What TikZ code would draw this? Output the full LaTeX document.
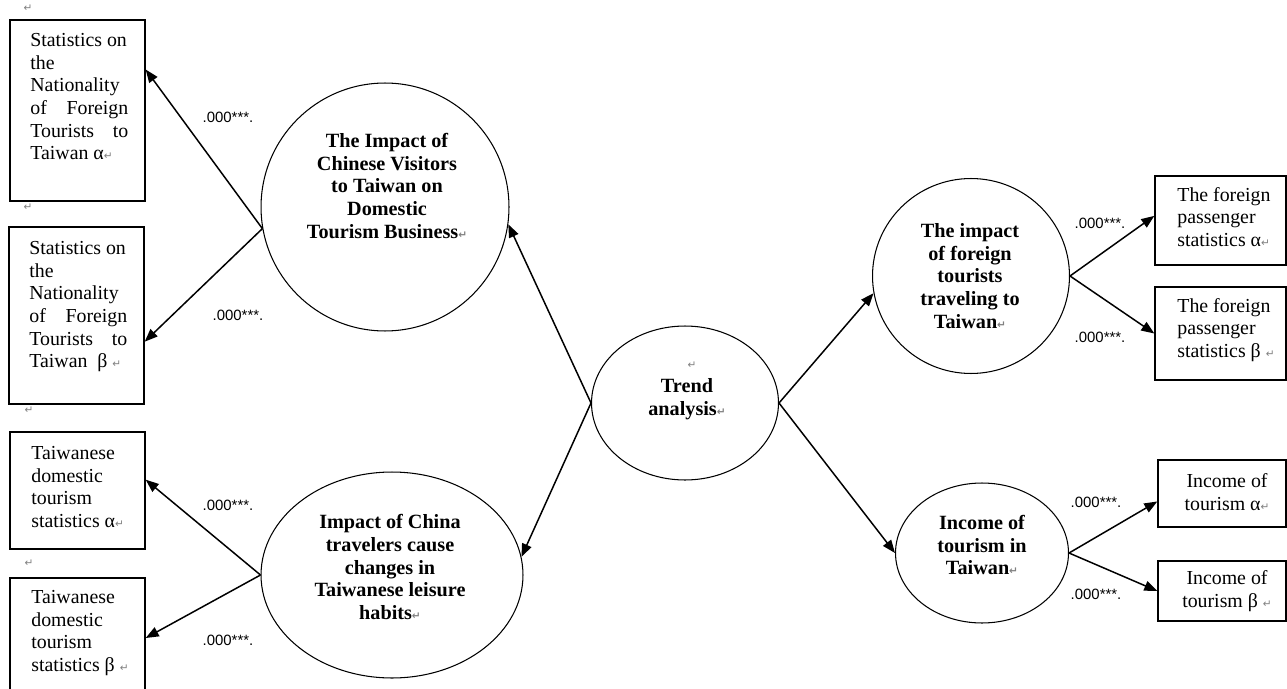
\documentclass[tikz,border=0pt]{standalone}
\usepackage{fontspec}
\setmainfont{Liberation Serif}
\newfontfamily\coeffont{Liberation Sans}
\newfontfamily\markfont{DejaVu Sans}
\usetikzlibrary{arrows.meta,shapes.geometric}

\newcommand{\retmark}{{\markfont\fontsize{6}{6}\selectfont\color{gray}↵}}
\newcommand{\spreadline}[2]{\makebox[1.96cm][s]{#1\hfill #2}}

\begin{document}
\begin{tikzpicture}[x=0.02cm,y=-0.02cm]
        \tikzstyle{every node}=[font=\fontsize{11.3}{12.9}\selectfont]
        \tikzstyle{statbox}=[draw, line width=0.8pt, minimum width=2.7cm, inner sep=0pt]
        \tikzstyle{boxtext}=[anchor=north west, align=left, inner sep=0pt]
        \tikzstyle{factor}=[draw, ellipse, line width=0.6pt, inner sep=0pt]
        \tikzstyle{factortext}=[align=center, inner sep=0pt, font=\fontsize{11.5}{13}\selectfont\bfseries]
        \tikzstyle{coef}=[inner sep=0pt, font=\coeffont\fontsize{8.5}{9}\selectfont]
        \tikzstyle{link}=[->, >={Triangle[length=0.26cm,width=0.2cm]}, line width=0.85pt]
        \useasboundingbox (0,0) rectangle (1287,689);
        % left boxes
        \node [statbox, minimum height=3.62cm] (natA) at (77.5,110.5) {};
        \node [statbox, minimum height=3.54cm] (natB) at (76.5,315.5) {};
        \node [statbox, minimum height=2.34cm] (domA) at (77.5,490.5) {};
        \node [statbox, minimum height=2.4cm] (domB) at (77.5,638) {};
        \node [boxtext] (natAtxt) at (30,33) {Statistics on\\the\\Nationality\\\spreadline{of}{Foreign}\\\spreadline{Tourists}{to}\\Taiwan α\retmark};
        \node [boxtext] (natBtxt) at (29,241) {Statistics on\\the\\Nationality\\\spreadline{of}{Foreign}\\\spreadline{Tourists}{to}\\Taiwan\ \ β\ \retmark};
        \node [boxtext] (domAtxt) at (31,446) {Taiwanese\\domestic\\tourism\\statistics α\retmark};
        \node [boxtext] (domBtxt) at (31,590) {Taiwanese\\domestic\\tourism\\statistics β\ \retmark};
        \node (mark1) at (28,8) {\retmark};
        \node (mark2) at (28,207) {\retmark};
        \node (mark3) at (29,410) {\retmark};
        \node (mark4) at (29,563) {\retmark};
        % factors
        \node [factor, minimum width=4.96cm, minimum height=4.96cm] (impact) at (385,207) {};
        \node [factor, minimum width=5.24cm, minimum height=4.12cm] (leisure) at (392,575) {};
        \node [factor, minimum width=3.74cm, minimum height=3.08cm] (trend) at (685,403) {};
        \node [factor, minimum width=3.94cm, minimum height=3.9cm] (foreign) at (971,276) {};
        \node [factor, minimum width=3.46cm, minimum height=2.8cm] (income) at (982,553) {};
        \node [factortext] (impacttxt) at (387,186) {The Impact of\\Chinese Visitors\\to Taiwan on\\Domestic\\Tourism Business\retmark};
        \node [factortext] (leisuretxt) at (390,567) {Impact of China\\travelers cause\\changes in\\Taiwanese leisure\\habits\retmark};
        \node [factortext] (trendtxt) at (687,399) {Trend\\analysis\retmark};
        \node (mark5) at (692,365) {\retmark};
        \node [factortext] (foreigntxt) at (970,276) {The impact\\of foreign\\tourists\\traveling to\\Taiwan\retmark};
        \node [factortext] (incometxt) at (982,545) {Income of\\tourism in\\Taiwan\retmark};
        % right boxes
        \node [statbox, minimum width=2.62cm, minimum height=1.78cm] (forA) at (1220.5,220.5) {};
        \node [statbox, minimum width=2.62cm, minimum height=1.86cm] (forB) at (1220.5,333.5) {};
        \node [statbox, minimum width=2.56cm, minimum height=1.34cm] (incA) at (1222,493.5) {};
        \node [statbox, minimum width=2.56cm, minimum height=1.2cm] (incB) at (1222,591) {};
        \node [boxtext] (forAtxt) at (1177,187) {The foreign\\passenger\\statistics α\retmark};
        \node [boxtext] (forBtxt) at (1177,298) {The foreign\\passenger\\statistics β\ \retmark};
        \node [align=center, inner sep=0pt] (incAtxt) at (1227,492) {Income of\\tourism α\retmark};
        \node [align=center, inner sep=0pt] (incBtxt) at (1227,591) {Income of\\tourism β\ \retmark};
        % arrows
        \draw [link] (impact.190) -- (natA.31);
        \draw [link] (impact.190) -- (natB.-21);
        \draw [link] (leisure.west) -- (domA.9);
        \draw [link] (leisure.west) -- (domB.east);
        \draw [link] (trend.west) -- (impact.-8);
        \draw [link] (trend.west) -- (leisure.8);
        \draw [link] (trend.east) -- (foreign.190);
        \draw [link] (trend.east) -- (income.west);
        \draw [link] (foreign.east) -- (forA.176);
        \draw [link] (foreign.east) -- (forB.west);
        \draw [link] (income.east) -- (incA.187);
        \draw [link] (income.east) -- (incB.west);
        \node [coef] (cNatA) at (228,117) {.000***.};
        \node [coef] (cNatB) at (238,315) {.000***.};
        \node [coef] (cDomA) at (228,505) {.000***.};
        \node [coef] (cDomB) at (228,640) {.000***.};
        \node [coef] (cForA) at (1100,223) {.000***.};
        \node [coef] (cForB) at (1100,337) {.000***.};
        \node [coef] (cIncA) at (1096,502) {.000***.};
        \node [coef] (cIncB) at (1096,594) {.000***.};
    \end{tikzpicture}
\end{document}
